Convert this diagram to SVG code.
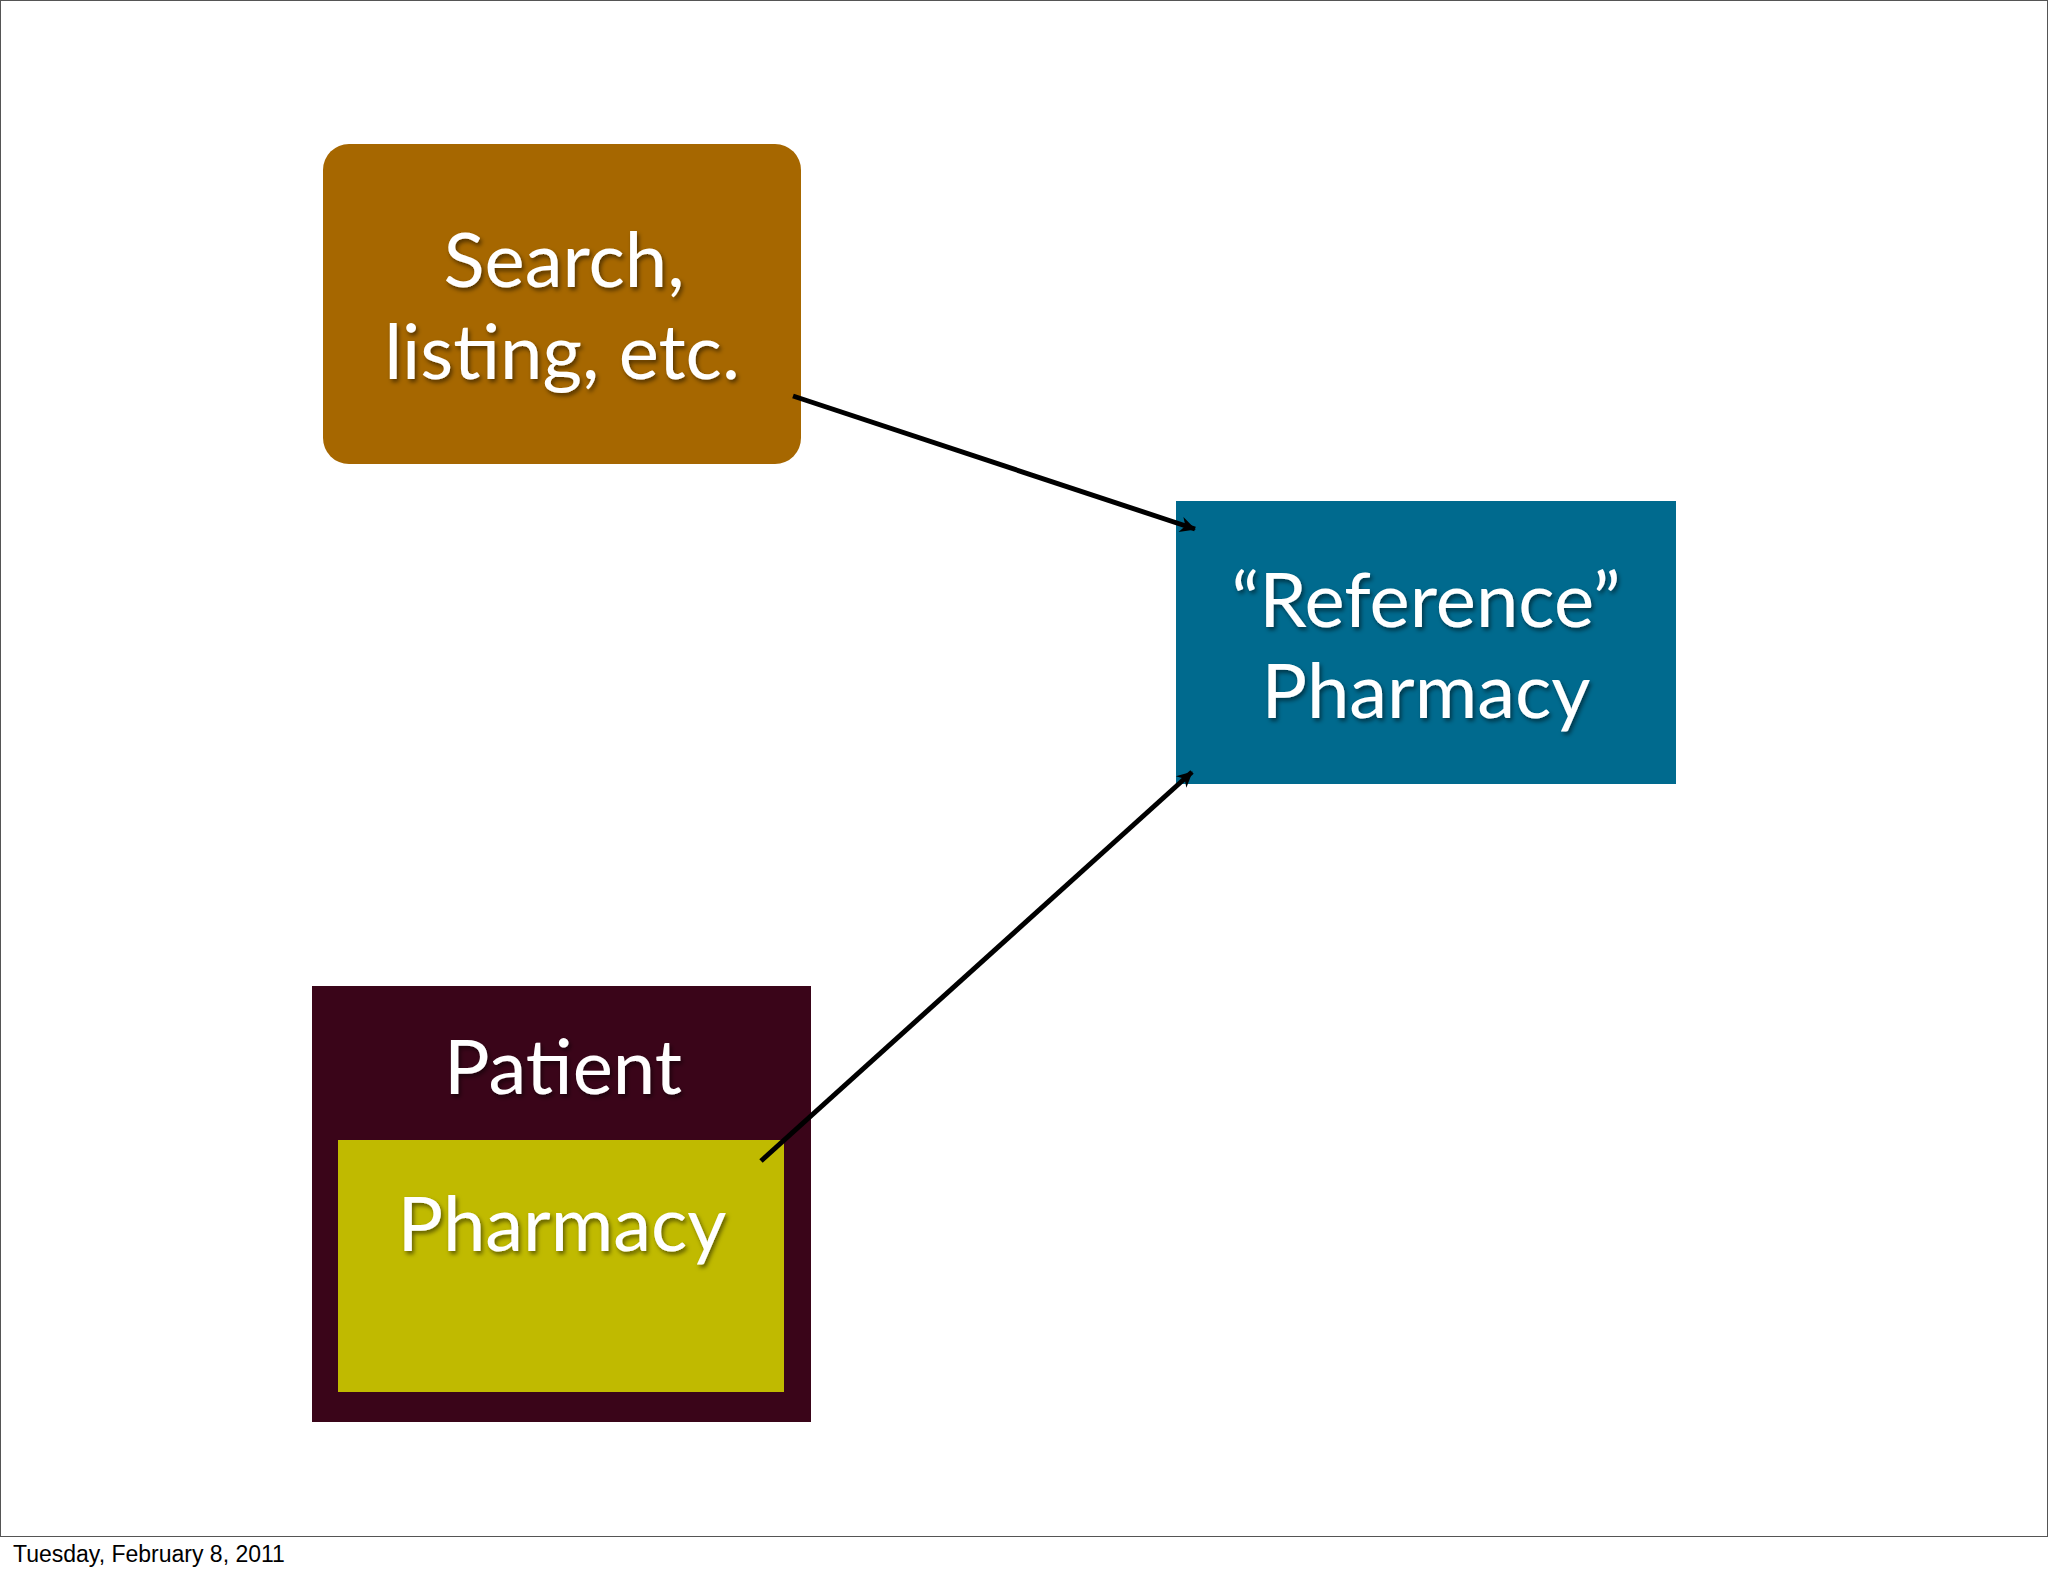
<svg xmlns="http://www.w3.org/2000/svg" width="2048" height="1576" viewBox="0 0 2048 1576">
<style>
.t{font-family:Lato,"Open Sans",sans-serif;font-size:76px;fill:#fff;text-anchor:middle}
.c{stroke:#000;stroke-width:5;fill:none;marker-end:url(#a)}
</style>
<defs>
<marker id="a" viewBox="0 0 10 10" refX="9" refY="5" markerWidth="6" markerHeight="6" markerUnits="userSpaceOnUse" orient="auto" style="overflow:visible">
<path d="M0,0 L10,5 L0,10 L3,5 Z" fill="#000" transform="scale(2.6) translate(-6,-3)"/>
</marker>
<filter id="s"><feDropShadow dx="2" dy="3" stdDeviation="2" flood-opacity="0.5"/></filter>
</defs>
<rect x="0.5" y="0.5" width="2047" height="1536" fill="#fff" stroke="#555" stroke-width="1"/>
<g id="search">
<rect x="323" y="144" width="478" height="320" rx="26" fill="#A66700"/>
<text class="t" x="564" y="287" filter="url(#s)">Search,</text>
<text class="t" x="562" y="379" filter="url(#s)">listing, etc.</text>
</g>
<g id="reference">
<rect x="1176" y="501" width="500" height="283" fill="#006A8E"/>
<text class="t" x="1426" y="627" filter="url(#s)">“Reference”</text>
<text class="t" x="1426" y="718" filter="url(#s)">Pharmacy</text>
</g>
<g id="patient">
<rect x="312" y="986" width="499" height="436" fill="#3A0519"/>
<text class="t" x="563" y="1094" filter="url(#s)">Patient</text>
</g>
<g id="pharmacy">
<rect x="338" y="1140" width="446" height="252" fill="#C0BA00"/>
<text class="t" x="562" y="1251" filter="url(#s)">Pharmacy</text>
</g>
<g id="connectors">
<line class="c" x1="793" y1="396" x2="1195" y2="529"/>
<line class="c" x1="761" y1="1161" x2="1192" y2="772"/>
</g>
<text x="13" y="1562" style="font-family:'Liberation Sans',Arial,sans-serif;font-size:23px;fill:#000">Tuesday, February 8, 2011</text>
</svg>
